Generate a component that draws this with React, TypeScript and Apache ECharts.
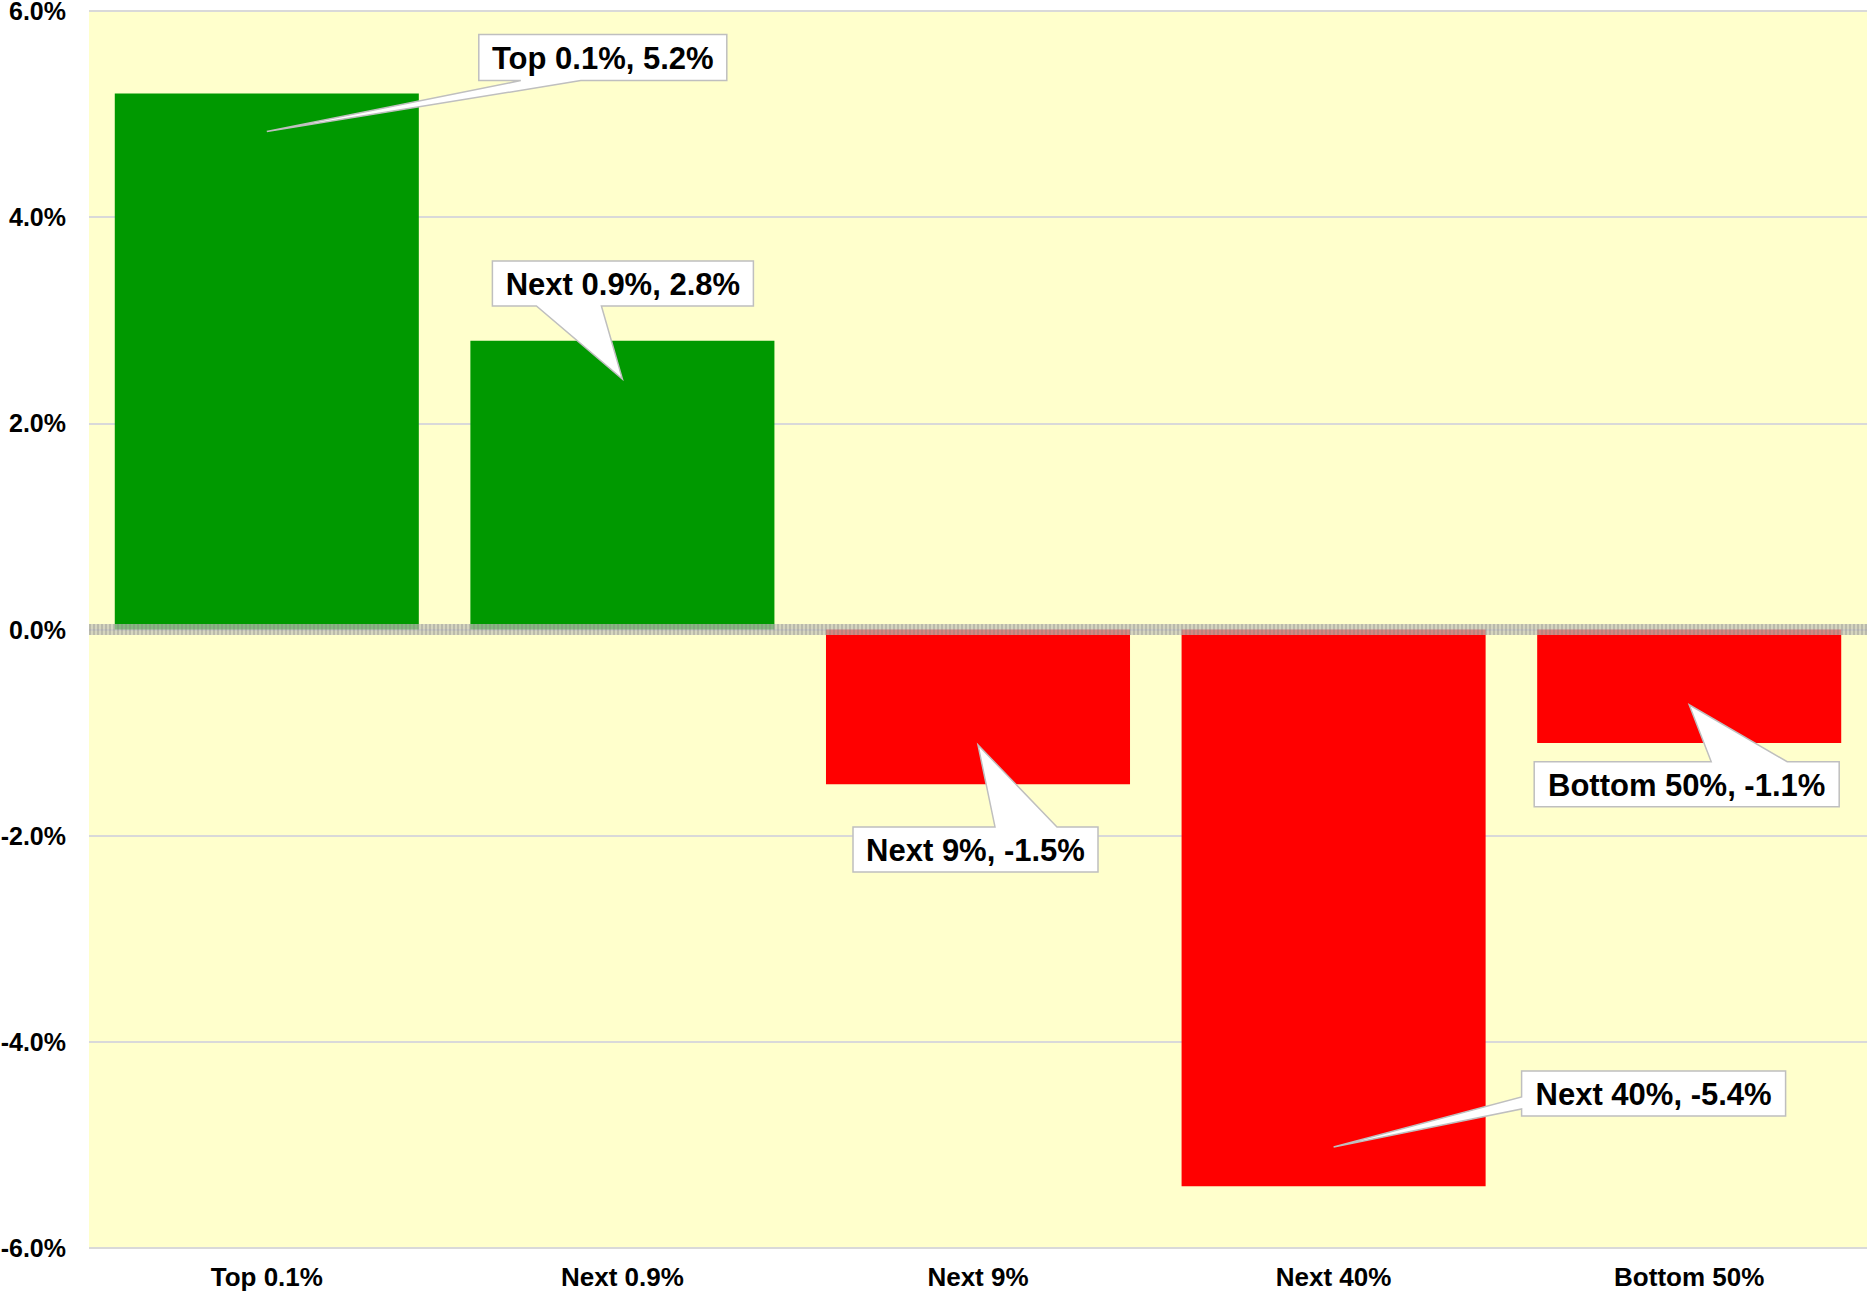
import React, { useEffect, useRef } from "react";
import * as echarts from "echarts";

// ---- data ----
const categories = ["Top 0.1%", "Next 0.9%", "Next 9%", "Next 40%", "Bottom 50%"];
const values = [5.2, 2.8, -1.5, -5.4, -1.1];
const yTicks = { min: -6, max: 6, interval: 2 };
const calloutLabels = [
  "Top 0.1%, 5.2%",
  "Next 0.9%, 2.8%",
  "Next 9%, -1.5%",
  "Next 40%, -5.4%",
  "Bottom 50%, -1.1%",
];
// value at which each callout's pointer touches the bar
const calloutAnchors = [4.83, 2.43, -1.12, -5.02, -0.73];

// ---- layout of callout boxes (pixels, relative to pointer tip) ----
const calloutLayout = [
  { dx: 212, dy: -97, w: 248, h: 46, side: "bottom", b0: 42, b1: 102 },
  { dx: -130, dy: -118, w: 261, h: 45, side: "bottom", b0: 44, b1: 109 },
  { dx: -125, dy: 82, w: 245, h: 45, side: "top", b0: 142, b1: 204 },
  { dx: 188, dy: -76, w: 264, h: 45, side: "left", b0: 26, b1: 38 },
  { dx: -155, dy: 57, w: 305, h: 45, side: "top", b0: 177, b1: 253 },
];

const FONT = '"Liberation Sans", Arial, Helvetica, sans-serif';

export default function App() {
  const ref = useRef<HTMLDivElement>(null);
  useEffect(() => {
    if (!ref.current) return;
    const chart = echarts.init(ref.current, undefined, { renderer: "svg" });
    const calloutData = categories.map((c, i) => [i, calloutAnchors[i], calloutLabels[i]]);
    chart.setOption({
      animation: false,
      backgroundColor: "#ffffff",
      grid: {
        left: 89,
        right: 0,
        top: 11,
        bottom: 49,
        show: true,
        backgroundColor: "#ffffcc",
        borderWidth: 0,
        containLabel: false,
        outerBoundsMode: "none",
      },
      xAxis: {
        type: "category",
        data: categories,
        axisLine: { show: false, onZero: false },
        axisTick: { show: false },
        splitLine: { show: false },
        axisLabel: {
          color: "#000",
          fontFamily: FONT,
          fontWeight: "bold",
          fontSize: 26,
          margin: 16,
        },
      },
      yAxis: {
        type: "value",
        min: yTicks.min,
        max: yTicks.max,
        interval: yTicks.interval,
        axisLine: { show: false },
        axisTick: { show: false },
        splitLine: { show: true, lineStyle: { color: "#d9d9d9", width: 2 } },
        axisLabel: {
          color: "#000",
          fontFamily: FONT,
          fontWeight: "bold",
          fontSize: 25,
          lineHeight: 20,
          padding: [4, 0, 0, 0],
          margin: 23,
          formatter: (v: number) => v.toFixed(1) + "%",
        },
      },
      series: [
        {
          type: "bar",
          data: values,
          barWidth: "85.5%",
          z: 2,
          itemStyle: {
            color: (p: any) => (p.value >= 0 ? "#009900" : "#ff0000"),
          },
        },
        {
          type: "line",
          data: [],
          z: 4,
          silent: true,
          markLine: {
            silent: true,
            symbol: "none",
            label: { show: false },
            data: [
              { yAxis: 0, lineStyle: { color: "rgba(195,195,185,0.7)", width: 11, type: "solid" } },
              { yAxis: 0, lineStyle: { color: "rgba(120,120,120,0.28)", width: 11, type: [2, 2] } },
            ],
          },
        },
        {
          type: "custom",
          z: 10,
          clip: false,
          silent: true,
          data: calloutData,
          encode: { x: 0, y: 1 },
          renderItem: (params: any, api: any) => {
            const i = params.dataIndex;
            const tip = api.coord([api.value(0), api.value(1)]);
            const L = calloutLayout[i];
            const x0 = tip[0] + L.dx;
            const y0 = tip[1] + L.dy;
            const x1 = x0 + L.w;
            const y1 = y0 + L.h;
            let points: number[][];
            if (L.side === "bottom") {
              points = [[x0, y0], [x1, y0], [x1, y1], [x0 + L.b1, y1], tip, [x0 + L.b0, y1], [x0, y1]];
            } else if (L.side === "top") {
              points = [[x0, y0], [x0 + L.b0, y0], tip, [x0 + L.b1, y0], [x1, y0], [x1, y1], [x0, y1]];
            } else {
              points = [[x0, y0], [x1, y0], [x1, y1], [x0, y1], [x0, y0 + L.b1], tip, [x0, y0 + L.b0]];
            }
            return {
              type: "group",
              children: [
                {
                  type: "polygon",
                  shape: { points },
                  style: { fill: "#ffffff", stroke: "#bfbfbf", lineWidth: 1.5 },
                },
                {
                  type: "text",
                  style: {
                    text: calloutLabels[i],
                    x: (x0 + x1) / 2,
                    y: (y0 + y1) / 2 + 1,
                    align: "center",
                    verticalAlign: "middle",
                    textAlign: "center",
                    textVerticalAlign: "middle",
                    fontFamily: FONT,
                    fontWeight: "bold",
                    fontSize: 31,
                    fill: "#000",
                  },
                },
              ],
            };
          },
        },
      ],
    });
    return () => chart.dispose();
  }, []);
  return (
    <div
      ref={ref}
      style={{ position: "absolute", left: 0, top: 0, width: 1867, height: 1297 }}
    />
  );
}
